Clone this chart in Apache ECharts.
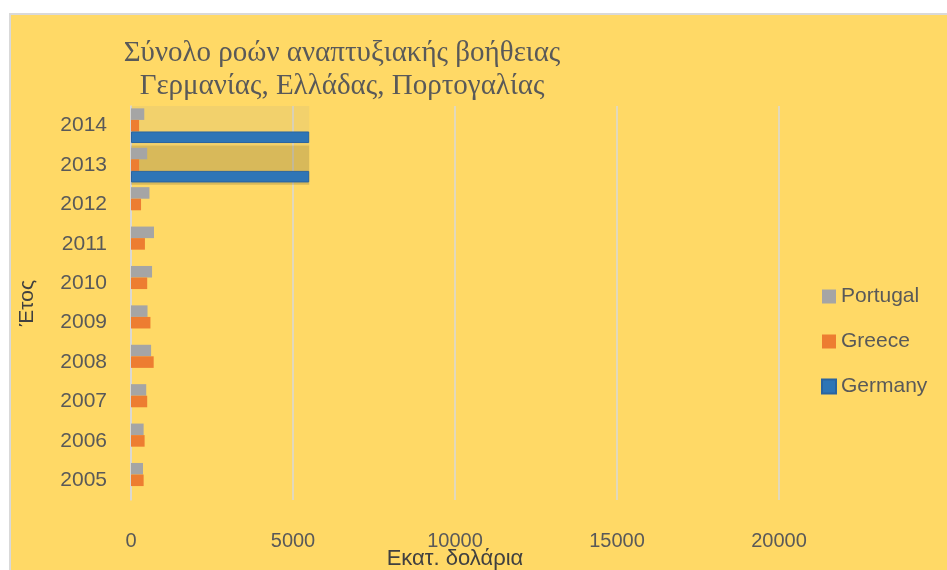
<!DOCTYPE html>
<html>
<head>
<meta charset="utf-8">
<script src="https://cdn.jsdelivr.net/npm/echarts@6/dist/echarts.min.js"></script>
<style>
  html, body { margin: 0; padding: 0; background: #ffffff; overflow: hidden; }
  #frame { position: absolute; left: 9px; top: 13px; width: 936px; height: 555px;
           background: #FFD966; border-left: 2px solid #D9D9D9; border-top: 2px solid #D9D9D9; }
  #chart { position: absolute; left: 0; top: 0; width: 947px; height: 570px; }
</style>
</head>
<body>
<div id="frame"></div>
<div id="chart"></div>
<script>
const years = ['2005', '2006', '2007', '2008', '2009', '2010', '2011', '2012', '2013', '2014'];
const portugal = [370, 390, 470, 620, 510, 650, 710, 570, 500, 410];
const greece = [390, 420, 500, 700, 600, 500, 430, 310, 250, 250];
const germany = [null, null, null, null, null, null, null, null, 5500, 5500];
const xTicks = [0, 5000, 10000, 15000, 20000];

const chart = echarts.init(document.getElementById('chart'), null, { renderer: 'canvas' });
const grey = '#595959';

chart.setOption({
  backgroundColor: 'transparent',
  textStyle: { fontFamily: 'Liberation Sans' },
  animation: false,
  title: {
    text: 'Σύνολο ροών αναπτυξιακής βοήθειας\nΓερμανίας, Ελλάδας, Πορτογαλίας',
    left: 342,
    textAlign: 'center',
    top: 37,
    padding: 0,
    textStyle: { fontFamily: 'Liberation Serif', fontSize: 29, fontWeight: 'normal', color: grey, lineHeight: 33 }
  },
  legend: {
    data: ['Portugal', 'Greece', 'Germany'],
    orient: 'vertical',
    left: 821,
    top: 286,
    padding: 0,
    itemGap: 24,
    itemWidth: 14,
    itemHeight: 14,
    icon: 'rect',
    textStyle: { fontSize: 21, color: grey }
  },
  grid: { left: 131, right: 168, top: 106, bottom: 70, containLabel: false, outerBoundsMode: 'none' },
  xAxis: {
    type: 'value',
    min: xTicks[0],
    max: xTicks[xTicks.length - 1],
    interval: 5000,
    name: 'Εκατ. δολάρια',
    nameLocation: 'middle',
    nameGap: 48,
    nameMoveOverlap: false,
    nameTextStyle: { fontSize: 22, color: '#404040' },
    axisLine: { show: false },
    axisTick: { show: false },
    axisLabel: { fontSize: 20, color: grey, margin: 31, formatter: function (v) { return String(v); } },
    splitLine: { show: true, lineStyle: { color: '#D9D9D9', width: 1.5 } }
  },
  yAxis: [{
    type: 'category',
    data: years,
    name: 'Έτος',
    nameLocation: 'middle',
    nameGap: 93,
    nameMoveOverlap: false,
    nameTextStyle: { fontSize: 21, color: '#404040' },
    axisLine: { show: true, lineStyle: { color: '#D9D9D9', width: 1.5 } },
    axisTick: { show: false },
    axisLabel: { fontSize: 21, color: grey, margin: 24 },
    splitLine: { show: false }
  }, {
    type: 'category',
    data: years,
    show: false
  }],
  series: [
    {
      name: 'GermanyTexture',
      type: 'bar',
      yAxisIndex: 1,
      data: germany,
      barCategoryGap: '0%',
      z: 1,
      silent: true,
      itemStyle: {
        color: function (p) {
          return p.dataIndex === years.length - 1 ? 'rgba(175,165,140,0.16)' : 'rgba(125,114,62,0.30)';
        }
      }
    },
    {
      name: 'Portugal',
      type: 'bar',
      data: portugal,
      barGap: '0%',
      barCategoryGap: '12%',
      z: 3,
      itemStyle: { color: '#A5A5A5' }
    },
    {
      name: 'Greece',
      type: 'bar',
      data: greece,
      barGap: '0%',
      barCategoryGap: '12%',
      z: 3,
      itemStyle: { color: '#ED7D31' }
    },
    {
      name: 'Germany',
      type: 'bar',
      data: germany,
      barGap: '0%',
      barCategoryGap: '12%',
      z: 3,
      itemStyle: { color: '#2E75B6', borderColor: '#2A64A0', borderWidth: 1 }
    }
  ]
});
</script>
</body>
</html>
